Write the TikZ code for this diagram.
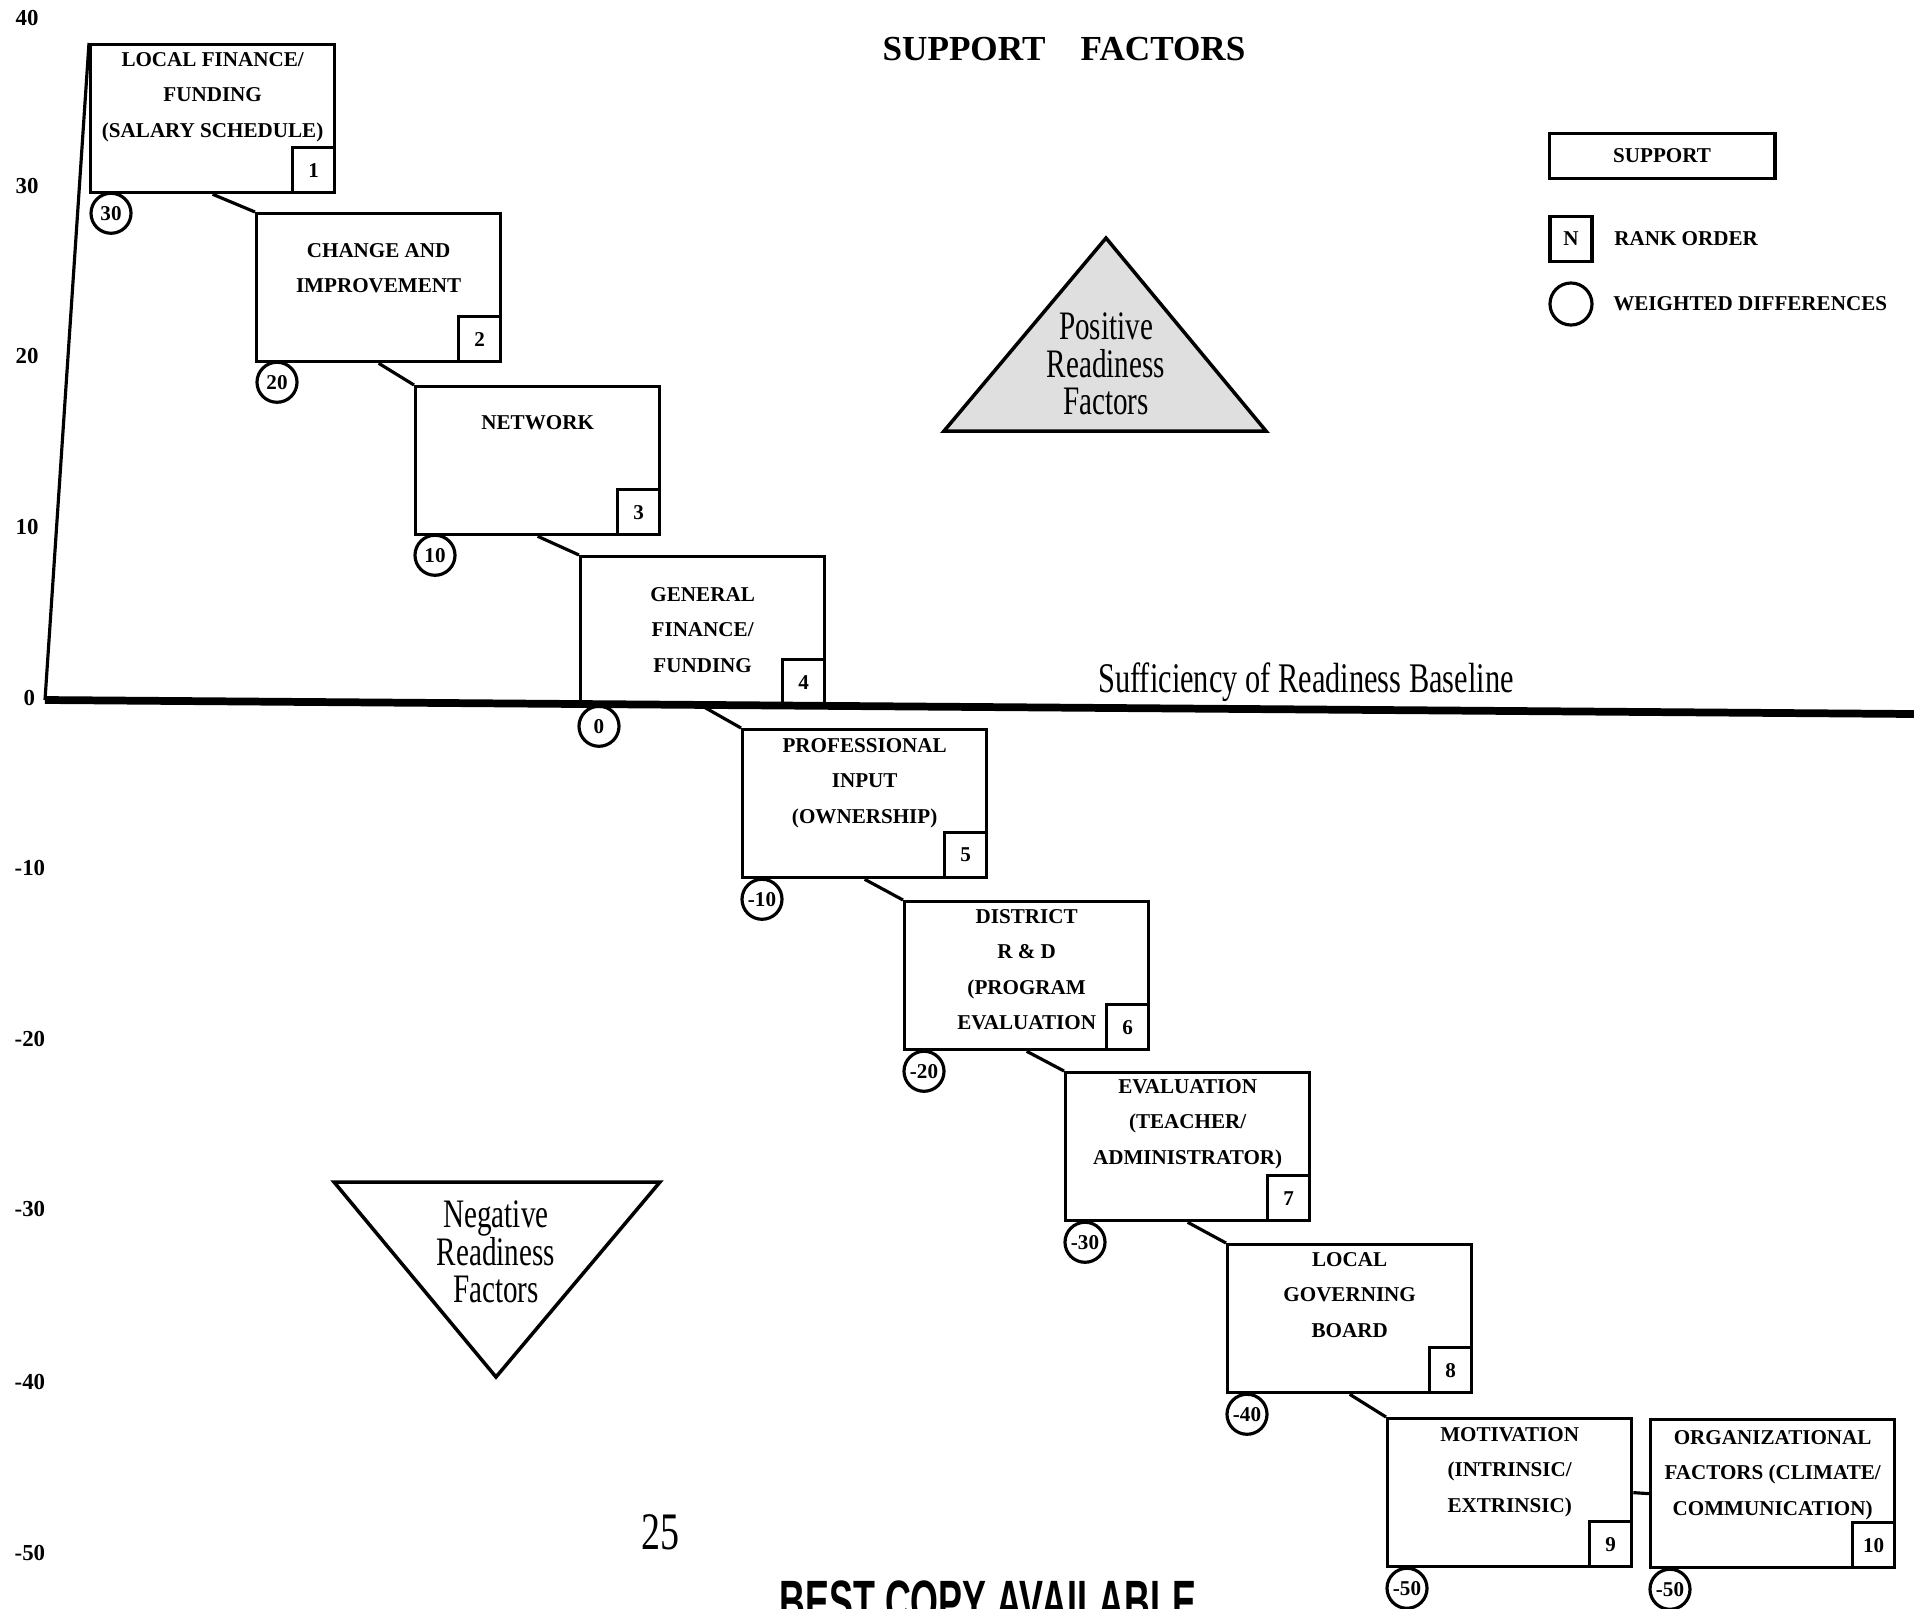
\documentclass[tikz,border=0pt]{standalone}
\usepackage{fontspec}
\setmainfont{Liberation Serif}
\newfontfamily\narrowserif[FakeStretch=0.72]{Liberation Serif}
\newfontfamily\narrowsans[FakeStretch=0.6]{Liberation Sans}
\usetikzlibrary{positioning}

\tikzset{
  factor/.style={draw,line width=0.9pt,minimum width=2.44cm,minimum height=1.48cm,anchor=north west,inner sep=0pt},
  factortext/.style={align=center,inner sep=0pt,font=\fontsize{6}{10}\selectfont\bfseries},
  rank/.style={draw,line width=0.9pt,minimum width=0.42cm,minimum height=0.45cm,inner sep=0pt,anchor=south east,font=\fontsize{6}{6}\selectfont\bfseries},
  wdiff/.style={draw,circle,line width=0.9pt,minimum size=0.4cm,inner sep=0pt,font=\fontsize{6}{6}\selectfont\bfseries},
  link/.style={line width=0.9pt},
  axislabel/.style={anchor=west,inner sep=0pt,font=\fontsize{6.5}{6.5}\selectfont\bfseries},
  readiness/.style={align=center,inner sep=0pt,font=\narrowserif\fontsize{11.5}{10.6}\selectfont},
}

\begin{document}
\begin{tikzpicture}[x=0.01cm,y=-0.01cm]

\useasboundingbox (0,0) rectangle (1914,1608);
\clip (0,0) rectangle (1914,1608);

\node [axislabel] (y40) at (15,18) {40};
\node [axislabel] (y30) at (15,186) {30};
\node [axislabel] (y20) at (15,356) {20};
\node [axislabel] (y10) at (15,527) {10};
\node [axislabel] (y0) at (23,698) {0};
\node [axislabel] (ym10) at (14,868) {-10};
\node [axislabel] (ym20) at (14,1039) {-20};
\node [axislabel] (ym30) at (14,1209) {-30};
\node [axislabel] (ym40) at (14,1382) {-40};
\node [axislabel] (ym50) at (14,1553) {-50};

\coordinate (base west) at (45,700);
\coordinate (base east) at (1914,714);

\node [font=\fontsize{10}{10}\selectfont\bfseries] (title) at (1064,49) {SUPPORT\quad FACTORS};

\node [factor] (f1) at (89,43) {};
\node [factor] (f2) at (255,212) {};
\node [factor] (f3) at (414,385) {};
\node [factor] (f4) at (579,555) {};
\node [factor] (f5) at (741,728) {};
\node [factor] (f6) at (903,900) {};
\node [factor] (f7) at (1064,1071) {};
\node [factor] (f8) at (1226,1243) {};
\node [factor] (f9) at (1386,1417) {};
\node [factor] (f10) at (1649,1418) {};

\draw [line width=0.9pt] (f1.north west) -- (base west);
\draw [line width=2.2pt] (base west) -- (base east);

\node [factortext,below=0.09cm of f1.north] (t1) {LOCAL FINANCE/\\FUNDING\\(SALARY SCHEDULE)};
\node [factortext,below=0.31cm of f2.north] (t2) {CHANGE AND\\IMPROVEMENT};
\node [factortext,below=0.30cm of f3.north] (t3) {NETWORK};
\node [factortext,below=0.32cm of f4.north] (t4) {GENERAL\\FINANCE/\\FUNDING};
\node [factortext,below=0.10cm of f5.north] (t5) {PROFESSIONAL\\INPUT\\(OWNERSHIP)};
\node [factortext,below=0.09cm of f6.north] (t6) {DISTRICT\\R \& D\\(PROGRAM\\EVALUATION};
\node [factortext,below=0.08cm of f7.north] (t7) {EVALUATION\\(TEACHER/\\ADMINISTRATOR)};
\node [factortext,below=0.09cm of f8.north] (t8) {LOCAL\\GOVERNING\\BOARD};
\node [factortext,below=0.10cm of f9.north] (t9) {MOTIVATION\\(INTRINSIC/\\EXTRINSIC)};
\node [factortext,below=0.12cm of f10.north] (t10) {ORGANIZATIONAL\\FACTORS (CLIMATE/\\COMMUNICATION)};

\node [rank] (r1) at (f1.south east) {1};
\node [rank] (r2) at (f2.south east) {2};
\node [rank] (r3) at (f3.south east) {3};
\node [rank] (r4) at (f4.south east) {4};
\node [rank] (r5) at (f5.south east) {5};
\node [rank] (r6) at (f6.south east) {6};
\node [rank] (r7) at (f7.south east) {7};
\node [rank] (r8) at (f8.south east) {8};
\node [rank] (r9) at (f9.south east) {9};
\node [rank] (r10) at (f10.south east) {10};

\node [wdiff] (w1) at ([xshift=0.22cm,yshift=-0.19cm]f1.south west) {30};
\node [wdiff] (w2) at ([xshift=0.22cm,yshift=-0.19cm]f2.south west) {20};
\node [wdiff] (w3) at ([xshift=0.21cm,yshift=-0.19cm]f3.south west) {10};
\node [wdiff] (w4) at ([xshift=0.2cm,yshift=-0.2cm]f4.south west) {0};
\node [wdiff] (w5) at ([xshift=0.21cm,yshift=-0.2cm]f5.south west) {-10};
\node [wdiff] (w6) at ([xshift=0.21cm,yshift=-0.2cm]f6.south west) {-20};
\node [wdiff] (w7) at ([xshift=0.21cm,yshift=-0.2cm]f7.south west) {-30};
\node [wdiff] (w8) at ([xshift=0.21cm,yshift=-0.2cm]f8.south west) {-40};
\node [wdiff] (w9) at ([xshift=0.21cm,yshift=-0.2cm]f9.south west) {-50};
\node [wdiff] (w10) at ([xshift=0.21cm,yshift=-0.2cm]f10.south west) {-50};

\draw [link] (f1.south) -- (f2.north west);
\draw [link] (f2.south) -- (f3.north west);
\draw [link] (f3.south) -- (f4.north west);
\draw [link] (f4.south) -- (f5.north west);
\draw [link] (f5.south) -- (f6.north west);
\draw [link] (f6.south) -- (f7.north west);
\draw [link] (f7.south) -- (f8.north west);
\draw [link] (f8.south) -- (f9.north west);
\draw [link] (f9.east) -- (f10.west);

\node [font=\narrowserif\fontsize{12}{12}\selectfont] (baseline) at (1306,682) {Sufficiency of Readiness Baseline};

\coordinate (pos top) at (1106,238);
\coordinate (pos right) at (1266,431);
\coordinate (pos left) at (944,431);
\filldraw [fill=gray!25,line width=1pt] (pos top) -- (pos right) -- (pos left) -- cycle;
\node [readiness] (postext) at (1106,364) {Positive\\Readiness\\Factors};

\coordinate (neg left) at (334,1182);
\coordinate (neg right) at (660,1182);
\coordinate (neg bottom) at (496,1377);
\draw [line width=1pt] (neg left) -- (neg right) -- (neg bottom) -- cycle;
\node [readiness] (negtext) at (496,1252) {Negative\\Readiness\\Factors};

\node [draw,line width=1.1pt,minimum width=2.25cm,minimum height=0.45cm,inner sep=0pt,font=\fontsize{6}{6}\selectfont\bfseries] (legsupport) at (1662,156) {SUPPORT};
\node [rank,anchor=center] (legrank) at (1571,239) {N};
\node [right=0.2cm of legrank,inner sep=0pt,font=\fontsize{6}{6}\selectfont\bfseries] (legranktext) {RANK ORDER};
\node [wdiff,minimum size=0.42cm] (legdiff) at (1571,304) {};
\node [right=0.19cm of legdiff,inner sep=0pt,font=\fontsize{6}{6}\selectfont\bfseries] (legdifftext) {WEIGHTED DIFFERENCES};

\node [font=\narrowserif\fontsize{15}{15}\selectfont] (pagenum) at (660,1532) {25};
\node [anchor=north,inner sep=0pt,font=\narrowsans\fontsize{17}{17}\selectfont\bfseries] (bestcopy) at (988,1580) {BEST COPY AVAILABLE};

\end{tikzpicture}
\end{document}
